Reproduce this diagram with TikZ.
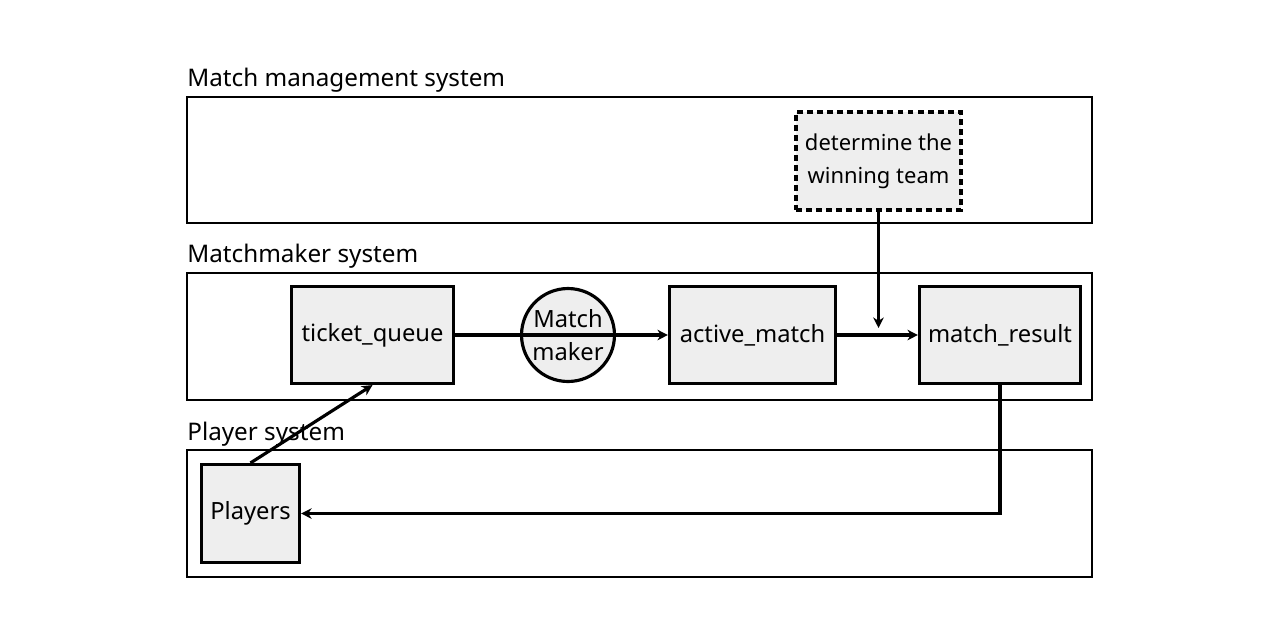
\documentclass[tikz,border=0pt]{standalone}
\usepackage{fontspec}
\setmainfont{Noto Sans}
\usetikzlibrary{arrows.meta}
\definecolor{boxfill}{HTML}{EEEEEE}

\begin{document}
\begin{tikzpicture}[x=0.02cm,y=-0.02cm,>={Stealth[length=6pt,width=6pt]},font=\fontsize{13.5}{19}\selectfont]
    \tikzstyle{frame}=[draw, line width=1.6pt]
    \tikzstyle{box}=[draw, fill=boxfill, line width=1.8pt, inner sep=0pt, align=center, minimum height=1.94cm]
    \tikzstyle{title}=[anchor=base west, inner sep=0pt, font=\fontsize{13.8}{16}\selectfont]
    \tikzstyle{flow}=[->, line width=1.8pt]

    \useasboundingbox (0,0) rectangle (1280,640);

    % the three systems
    \draw[frame] (187,97) rectangle (1092,223);
    \draw[frame] (187,273) rectangle (1092,400);
    \draw[frame] (187,450) rectangle (1092,577);
    \node[title] (mgmtlabel) at (187,86) {Match management system};
    \node[title] (mmlabel) at (187,262) {Matchmaker system};
    \node[title] (pllabel) at (187,440) {Player system};

    \node[box, dashed, dash pattern=on 3.4pt off 2.3pt, minimum width=3.3cm, minimum height=1.96cm,
          font=\fontsize{12.5}{19}\selectfont] (winner) at (878.5,161)
    {determine the\\winning team};

    \node[box, minimum width=3.24cm] (queue) at (372.5,335) {ticket\_queue};
    \node[draw, circle, fill=boxfill, line width=1.8pt, minimum size=1.86cm, inner sep=0pt, align=center] (maker) at (568,335)
    {Match\\maker};
    \node[box, minimum width=3.32cm] (active) at (752.5,335) {active\_match};
    \node[box, minimum width=3.22cm] (result) at (1000,335) {match\_result};
    \node[box, minimum width=1.96cm, minimum height=1.96cm] (players) at (250.5,513.5) {Players};

    \coordinate (join) at (878.5,328);

    \draw[flow] (queue) -- (active);
    \draw[flow] (active) -- (result);
    \draw[flow] (winner) -- (join);
    \draw[flow] (result.south) |- (players.east);
    \draw[flow] (players.north) -- (queue.south);
\end{tikzpicture}
\end{document}
